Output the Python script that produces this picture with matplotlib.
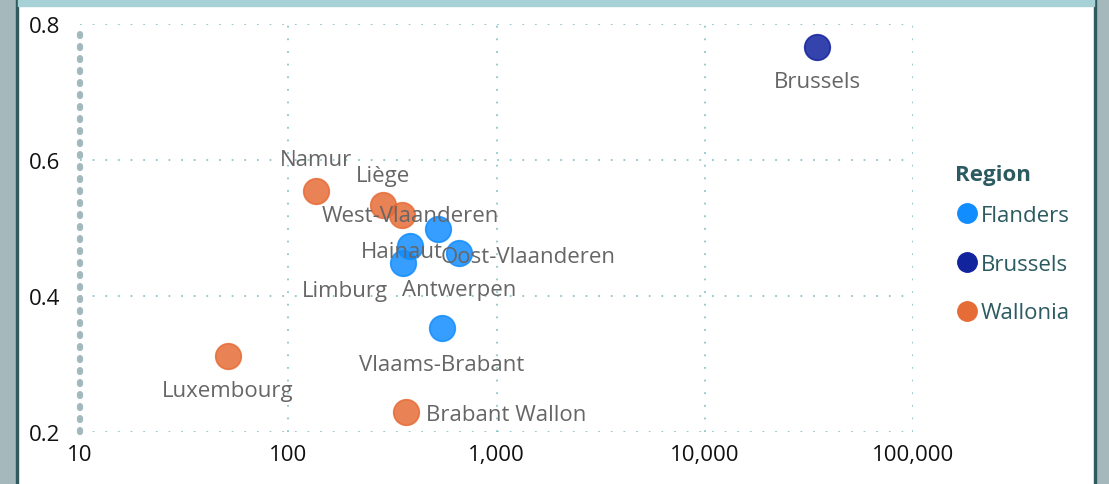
import matplotlib.pyplot as plt
from matplotlib.patches import Rectangle
from matplotlib.lines import Line2D
from matplotlib.ticker import FixedLocator, FuncFormatter

# Data (x on log scale)
names = ['Brussels', 'Namur', 'Liège', 'Hainaut', 'West-Vlaanderen', 'Oost-Vlaanderen',
         'Antwerpen', 'Limburg', 'Vlaams-Brabant', 'Luxembourg', 'Brabant Wallon']
regions = ['Brussels', 'Wallonia', 'Wallonia', 'Wallonia', 'Flanders', 'Flanders',
           'Flanders', 'Flanders', 'Flanders', 'Wallonia', 'Wallonia']
x_vals = [34600, 136, 285, 352, 384, 524, 661, 356, 547, 51.4, 368]
y_vals = [0.766, 0.554, 0.534, 0.519, 0.474, 0.499, 0.463, 0.449, 0.353, 0.312, 0.229]

region_order = ['Flanders', 'Brussels', 'Wallonia']
region_colors = {'Flanders': '#118DFF', 'Brussels': '#12239E', 'Wallonia': '#E66C37'}

x_ticks = [10, 100, 1000, 10000, 100000]
y_ticks = [0.2, 0.4, 0.6, 0.8]

# label offsets in points (dx, dy, ha)
label_pos = {
    'Brussels': (0, -25, 'center'),
    'Namur': (0, 23, 'center'),
    'Liège': (0, 21.5, 'center'),
    'Hainaut': (0, -26.5, 'center'),
    'West-Vlaanderen': (0, 22, 'center'),
    'Oost-Vlaanderen': (1.5, -20, 'left'),
    'Antwerpen': (0, -26.5, 'center'),
    'Limburg': (-42, -20, 'center'),
    'Vlaams-Brabant': (0, -26.5, 'center'),
    'Luxembourg': (0, -25, 'center'),
    'Brabant Wallon': (14, -1.5, 'left'),
}

plt.rcParams['font.family'] = ['Open Sans', 'DejaVu Sans']

fig = plt.figure(figsize=(11.09, 4.85), dpi=100)
W, H = 1109, 485

# report-style frame
fig.add_artist(Rectangle((0, 0), 1, 1, transform=fig.transFigure, color='#a5b8bb', zorder=-10))
fig.add_artist(Rectangle((18 / W, 0), (1094 - 18) / W, 1, transform=fig.transFigure,
                         color='white', zorder=-9))
fig.add_artist(Rectangle((16 / W, 0), 2 / W, 1, transform=fig.transFigure, color='#2e5a60', zorder=-8))
fig.add_artist(Rectangle((1094 / W, 0), 2 / W, 1, transform=fig.transFigure, color='#2e5a60', zorder=-8))
fig.add_artist(Rectangle((18 / W, 1 - 7 / H), (1094 - 18) / W, 7 / H, transform=fig.transFigure,
                         color='#a6d1d7', zorder=-7))

ax = fig.add_axes([80 / W, 52 / H, (913 - 80) / W, (433 - 25) / H])
ax.set_facecolor('none')
ax.set_xscale('log')
ax.set_xlim(10, 100000)
ax.set_ylim(0.2, 0.8)

for s in ax.spines.values():
    s.set_visible(False)

grid_kw = dict(color='#8cc7ca', lw=1.3, ls=(0, (1, 6)), zorder=0)
for v in y_ticks:
    ax.axhline(v, **grid_kw)
for v in x_ticks[1:]:
    ax.axvline(v, **grid_kw)
axis_line = ax.axvline(10, color='#a3b9be', lw=4.5, ls=(0, (0.3, 1.62)), zorder=1,
                       clip_on=False)
axis_line.set_dash_capstyle('round')

for reg in region_order:
    xs = [x for x, r in zip(x_vals, regions) if r == reg]
    ys = [y for y, r in zip(y_vals, regions) if r == reg]
    ax.scatter(xs, ys, s=340, color=region_colors[reg], alpha=0.85,
               edgecolors=region_colors[reg], linewidths=1.2, zorder=3)

for n, x, y in zip(names, x_vals, y_vals):
    dx, dy, ha = label_pos[n]
    ax.annotate(n, (x, y), xytext=(dx, dy), textcoords='offset points',
                ha=ha, va='center', fontsize=16, color='#666666', zorder=5)

ax.xaxis.set_major_locator(FixedLocator(x_ticks))
ax.xaxis.set_minor_locator(FixedLocator([]))
ax.xaxis.set_major_formatter(FuncFormatter(lambda v, p: f'{int(v):,}'))
ax.set_yticks(y_ticks)
ax.yaxis.set_major_formatter(FuncFormatter(lambda v, p: f'{v:.1f}'))
ax.tick_params(axis='both', length=0, labelsize=16, labelcolor='#111111')
ax.tick_params(axis='y', pad=14)
ax.tick_params(axis='x', pad=9)

# legend
fig.text(955 / W, 1 - 175 / H, 'Region', fontsize=16, fontweight='bold',
         color='#2b5a60', ha='left', va='center')
handles = [Line2D([0], [0], marker='o', ls='', markersize=14,
                  markerfacecolor=region_colors[r], markeredgecolor=region_colors[r])
           for r in region_order]
leg = fig.legend(handles, region_order, loc='upper left',
                 bbox_to_anchor=(945 / W, 1 - 197 / H), frameon=False,
                 fontsize=16, handletextpad=0.0,
                 labelspacing=1.25, handlelength=1.2, borderaxespad=0)
for t in leg.get_texts():
    t.set_color('#2b5a60')

fig.savefig('out.png', dpi=100)
